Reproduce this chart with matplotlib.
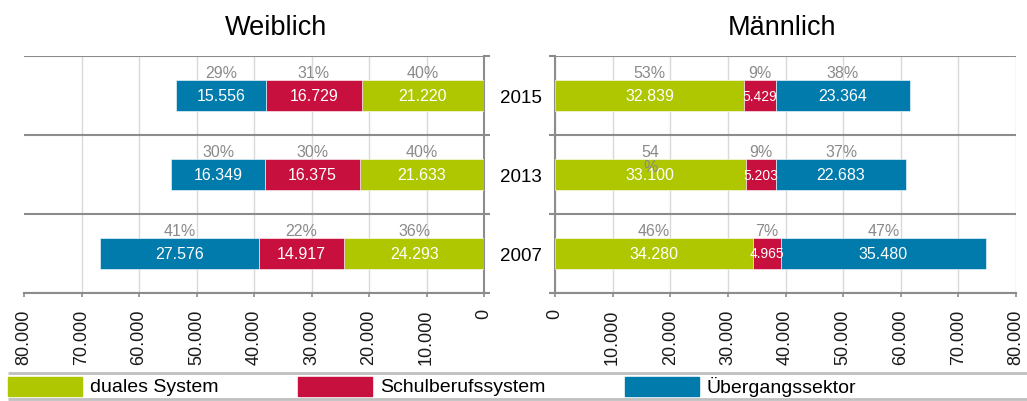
import numpy as np
import matplotlib.pyplot as plt
from matplotlib.patches import Rectangle
from matplotlib.ticker import FuncFormatter

plt.rcParams['font.family'] = ['Liberation Sans', 'DejaVu Sans']

# Neuzugänge nach Sektor, Jahr (von unten nach oben)
years = ['2007', '2013', '2015']

female_dual = [24293, 21633, 21220]
female_school = [14917, 16375, 16729]
female_trans = [27576, 16349, 15556]

male_dual = [34280, 33100, 32839]
male_school = [4965, 5203, 5429]
male_trans = [35480, 22683, 23364]

# Anteile, wie sie über den Balken stehen
female_pct_dual = ['36%', '40%', '40%']
female_pct_school = ['22%', '30%', '31%']
female_pct_trans = ['41%', '30%', '29%']

male_pct_dual = ['46%', '54\n%', '53%']
male_pct_school = ['7%', '9%', '9%']
male_pct_trans = ['47%', '37%', '38%']

sectors = ['duales System', 'Schulberufssystem', 'Übergangssektor']
colors = ['#afc700', '#c8103e', '#007bab']

xticks = np.arange(0, 80001, 10000)
GRAY = '#8c8c8c'
GRID = '#d9d9d9'


def fmt(v):
    return f"{int(v):,}".replace(',', '.')


fig = plt.figure(figsize=(10.27, 4.02), dpi=100)
bottom = (402 - 294) / 402
height = (294 - 57) / 402
ax_f = fig.add_axes([24 / 1027, bottom, 460 / 1027, height])
ax_m = fig.add_axes([555 / 1027, bottom, 461 / 1027, height])

y = np.arange(len(years))


def draw_panel(ax, series, pcts, side):
    left = np.zeros(len(years))
    for vals, pct, col in zip(series, pcts, colors):
        vals = np.array(vals)
        ax.barh(y, vals, left=left, height=0.4, color=col,
                edgecolor='white', linewidth=0.4, zorder=3)
        for yi, l, v, p in zip(y, left, vals, pct):
            cx = l + v / 2
            ax.text(cx, yi, fmt(v), ha='center', va='center',
                    color='white', fontsize=11.5 if v > 8000 else 10, zorder=4)
            ax.text(cx, yi + 0.385, p, ha='center', va='top',
                    color='#8a8a8a', fontsize=11.5, linespacing=1.0, zorder=4)
        left += vals

    ax.set_ylim(-0.5, 2.5)
    ax.set_xticks(xticks)
    ax.xaxis.set_major_formatter(FuncFormatter(lambda v, _: fmt(v)))
    ax.tick_params(axis='x', rotation=90, labelsize=13, colors=GRAY,
                   labelcolor='#1a1a1a', length=3, width=1.2, pad=8)
    ax.grid(axis='x', color=GRID, linewidth=1, zorder=0)

    # Trennlinien zwischen den Jahren
    bounds = [-0.5, 0.5, 1.5, 2.5]
    for b in bounds:
        ax.axhline(b, color=GRAY, linewidth=1.5, zorder=2)
    ax.set_yticks(bounds)
    ax.set_yticklabels([])
    ax.tick_params(axis='y', which='major', length=4, width=1.5, colors=GRAY)

    for s in ['top', 'left', 'right']:
        ax.spines[s].set_visible(False)
    ax.spines['bottom'].set_color(GRAY)
    ax.spines['bottom'].set_linewidth(1.5)
    ax.spines[side].set_visible(True)
    ax.spines[side].set_color(GRAY)
    ax.spines[side].set_linewidth(1.5)


draw_panel(ax_f, [female_dual, female_school, female_trans],
           [female_pct_dual, female_pct_school, female_pct_trans], 'right')
ax_f.set_xlim(80000, 0)
ax_f.yaxis.tick_right()
ax_f.get_xgridlines()[-1].set_visible(False)

draw_panel(ax_m, [male_dual, male_school, male_trans],
           [male_pct_dual, male_pct_school, male_pct_trans], 'left')
ax_m.set_xlim(0, 80000)
ax_m.yaxis.tick_left()
ax_m.set_yticks(y, minor=True)
ax_m.set_yticklabels(years, minor=True)
ax_m.tick_params(axis='y', which='minor', length=0, pad=24.5, labelsize=13.5)
for lab in ax_m.get_yticklabels(minor=True):
    lab.set_horizontalalignment('center')

fig.text(276 / 1027, 1 - 35 / 402, 'Weiblich', ha='center', va='baseline', fontsize=19.5)
fig.text(782 / 1027, 1 - 35 / 402, 'Männlich', ha='center', va='baseline', fontsize=19.5)

# Legende unten
ax_leg = fig.add_axes([0, 0, 1, 30 / 402])
ax_leg.set_xlim(0, 1027)
ax_leg.set_ylim(402, 372)
ax_leg.axis('off')
ax_leg.hlines([374, 400], 8, 1027, color='#c0c0c0', linewidth=2)
leg_x = [8, 298, 625]
for x0, name, col in zip(leg_x, sectors, colors):
    ax_leg.add_patch(Rectangle((x0, 378), 74, 19, color=col))
    ax_leg.text(x0 + 82, 387.5, name, ha='left', va='center', fontsize=14)

fig.savefig('out.png', dpi=100)
